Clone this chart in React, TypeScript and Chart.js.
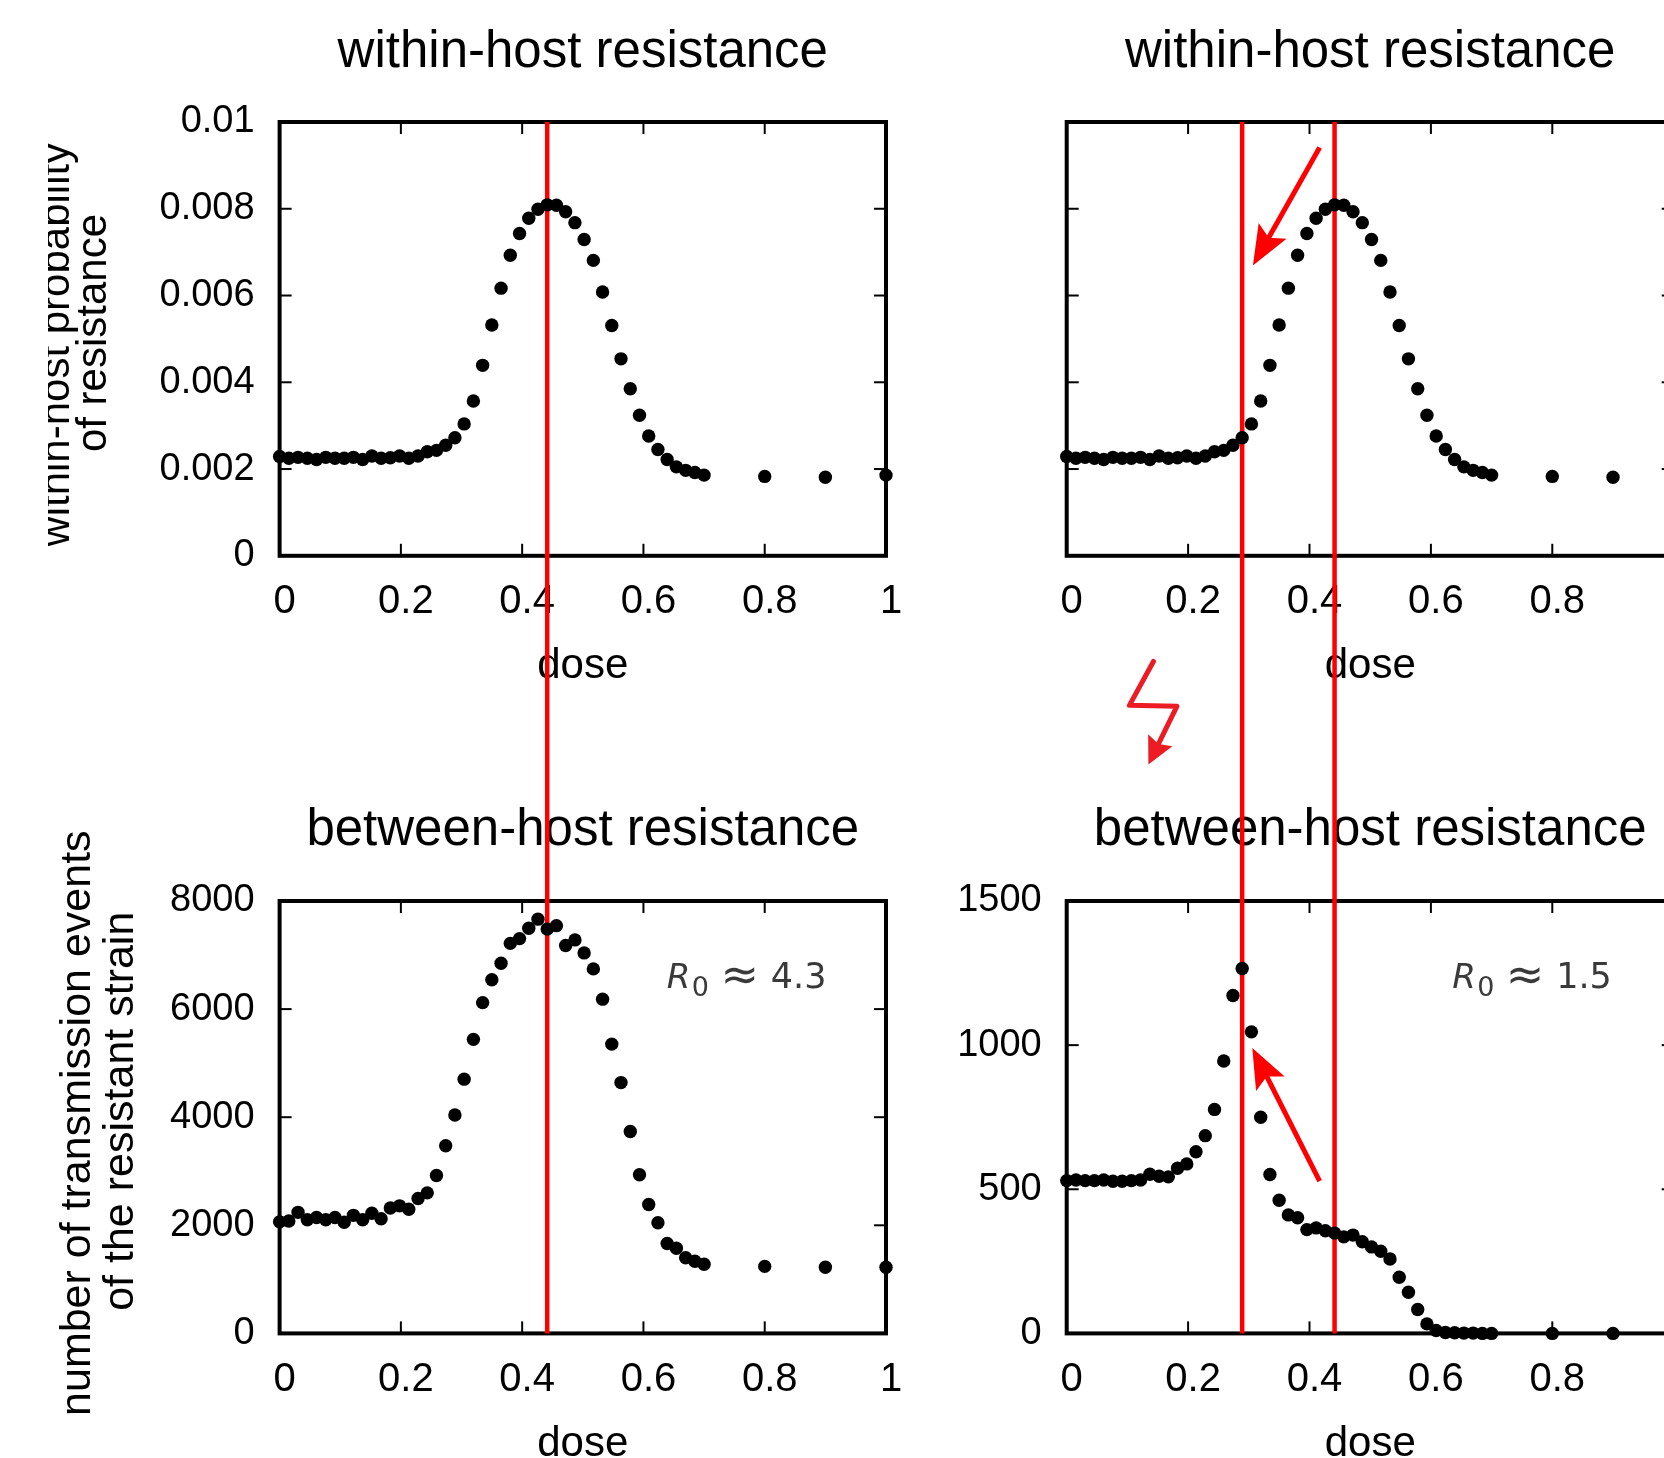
import React, { useEffect, useRef } from 'react';
import { Chart, registerables } from 'chart.js';

Chart.register(...registerables);

// ---------------- data ----------------
const DOSE = [
  0, 0.0152, 0.0304, 0.0457, 0.0609, 0.0761, 0.0913, 0.1065, 0.1217, 0.137,
  0.1522, 0.1674, 0.1826, 0.1978, 0.213, 0.2283, 0.2435, 0.2587, 0.2739, 0.2891,
  0.3043, 0.3196, 0.3348, 0.35, 0.3652, 0.3804, 0.3957, 0.4109, 0.4261, 0.4413,
  0.4565, 0.4717, 0.487, 0.5022, 0.5174, 0.5326, 0.5478, 0.563, 0.5783, 0.5935,
  0.6087, 0.6239, 0.6391, 0.6543, 0.6696, 0.6848, 0.7, 0.8, 0.9, 1.0,
];

const WITHIN_HOST_PROB = [
  0.00229, 0.00225, 0.00227, 0.00225, 0.00222, 0.00227, 0.00225, 0.00225, 0.00227, 0.00222,
  0.0023, 0.00225, 0.00226, 0.0023, 0.00225, 0.0023, 0.0024, 0.00243, 0.00255, 0.00272,
  0.00304, 0.00357, 0.00439, 0.00532, 0.00617, 0.00693, 0.00743, 0.00778, 0.00799, 0.00809,
  0.00808, 0.00793, 0.00768, 0.00729, 0.00681, 0.00608, 0.00531, 0.00454, 0.00385, 0.00324,
  0.00276, 0.00245, 0.00222, 0.00205, 0.00197, 0.00192, 0.00186, 0.00183, 0.00181, 0.00186,
];

const TRANSMISSIONS_R0_43 = [
  2064, 2080, 2240, 2104, 2144, 2104, 2144, 2056, 2184, 2104,
  2224, 2120, 2320, 2360, 2296, 2496, 2600, 2920, 3472, 4040,
  4704, 5440, 6120, 6544, 6848, 7216, 7304, 7496, 7664, 7480,
  7544, 7176, 7280, 7040, 6744, 6184, 5352, 4640, 3736, 2936,
  2384, 2048, 1664, 1576, 1400, 1336, 1280, 1240, 1224, 1224,
];

const TRANSMISSIONS_R0_15 = [
  530, 532, 530, 530, 532, 528, 528, 530, 532, 552,
  545, 543, 573, 588, 630, 686, 777, 945, 1172, 1266,
  1046, 750, 551, 462, 411, 401, 360, 366, 356, 348,
  335, 341, 318, 300, 285, 258, 195, 143, 83, 33,
  10, 3, 2, 1, 1, 0, 0, 0, 0, 0,
];

const TITLE_WITHIN = 'within-host resistance';
const TITLE_BETWEEN = 'between-host resistance';
const Y_TITLE_WITHIN = ['within-host probability ', ' of resistance'];
const Y_TITLE_BETWEEN = ['number of transmission events ', ' of the resistant strain'];
const X_TITLE = 'dose';

const OPTIMAL_DOSE = 0.4413;
const SHIFTED_DOSE = 0.2891;

// annotation anchors in data units
const ARROW_TOP = [[0.4167, 0.00941], [0.3068, 0.00669]];
const ARROW_BOTTOM = [[0.4167, 528], [0.3058, 990]];
const LIGHTNING = [[0.1429, -0.002436], [0.1033, -0.003448], [0.1815, -0.003471], [0.1346, -0.004811]];
const R0_LEFT = { label: '4.3', at: [0.6386, 6385] };
const R0_RIGHT = { label: '1.5', at: [0.635, 1197] };

const FONT = '"Liberation Sans", Arial, Helvetica, sans-serif';
const MATH_FONT = '"DejaVu Sans", sans-serif';

function hasFont(name: string): boolean {
  try {
    const c = document.createElement('canvas').getContext('2d');
    if (!c) return false;
    const s = 'within-host probability';
    c.font = '40px monospace';
    const w0 = c.measureText(s).width;
    c.font = `40px "${name}", monospace`;
    return Math.abs(c.measureText(s).width - w0) > 0.5;
  } catch (e) {
    return false;
  }
}
const NARROW = hasFont('Liberation Sans Narrow');
const TL_YTITLE_FONT = NARROW
  ? { family: '"Liberation Sans Narrow", "Liberation Sans", sans-serif', size: 50, lineHeight: 0.74 }
  : { family: FONT, size: 42, lineHeight: 0.88 };
const TL_YTITLE_PAD = NARROW ? 36.2 : 39;
const TL_CLIP = NARROW ? 44 : 48;

type Pt = number[];
interface PanelCfg {
  key: string;
  left: number; top: number; w: number; h: number;
  values: number[];
  yMax: number; yStep: number; showYTicks: boolean;
  yTitle: string[] | null; yTitleFont: any; yTitlePadTop: number;
  title: string; titlePadTop: number; titlePadBottom: number;
  yWidth: number; padRight: number; xHeight: number; xTitlePadBottom: number;
  redLines: number[]; redDown: boolean;
  arrow?: Pt[]; lightning?: Pt[]; r0?: { label: string; at: Pt };
  clipLeft?: number;
}

const PANELS: PanelCfg[] = [
  {
    key: 'tl', left: 0, top: 0, w: 940, h: 785,
    values: WITHIN_HOST_PROB, yMax: 0.01, yStep: 0.002, showYTicks: true,
    yTitle: Y_TITLE_WITHIN, yTitleFont: TL_YTITLE_FONT, yTitlePadTop: TL_YTITLE_PAD,
    title: TITLE_WITHIN, titlePadTop: 22, titlePadBottom: 38.8,
    yWidth: 279.6, padRight: 54, xHeight: 229.2, xTitlePadBottom: 93.3,
    redLines: [OPTIMAL_DOSE], redDown: true, clipLeft: TL_CLIP,
  },
  {
    key: 'tr', left: 940, top: 0, w: 800, h: 785,
    values: WITHIN_HOST_PROB, yMax: 0.01, yStep: 0.002, showYTicks: false,
    yTitle: null, yTitleFont: null, yTitlePadTop: 0,
    title: TITLE_WITHIN, titlePadTop: 22, titlePadBottom: 38.8,
    yWidth: 126.7, padRight: 66.3, xHeight: 229.2, xTitlePadBottom: 93.3,
    redLines: [SHIFTED_DOSE, OPTIMAL_DOSE], redDown: true,
    arrow: ARROW_TOP, lightning: LIGHTNING,
  },
  {
    key: 'bl', left: 0, top: 785, w: 940, h: 700,
    values: TRANSMISSIONS_R0_43, yMax: 8000, yStep: 2000, showYTicks: true,
    yTitle: Y_TITLE_BETWEEN, yTitleFont: { family: FONT, size: 43, lineHeight: 1.0 }, yTitlePadTop: 56.5,
    title: TITLE_BETWEEN, titlePadTop: 15.4, titlePadBottom: 39.4,
    yWidth: 279.6, padRight: 54, xHeight: 151.6, xTitlePadBottom: 15.3,
    redLines: [OPTIMAL_DOSE], redDown: false, r0: R0_LEFT,
  },
  {
    key: 'br', left: 940, top: 785, w: 800, h: 700,
    values: TRANSMISSIONS_R0_15, yMax: 1500, yStep: 500, showYTicks: true,
    yTitle: null, yTitleFont: null, yTitlePadTop: 0,
    title: TITLE_BETWEEN, titlePadTop: 15.4, titlePadBottom: 39.4,
    yWidth: 126.7, padRight: 66.3, xHeight: 151.6, xTitlePadBottom: 15.3,
    redLines: [SHIFTED_DOSE, OPTIMAL_DOSE], redDown: false,
    arrow: ARROW_BOTTOM, r0: R0_RIGHT,
  },
];

const fmt = (v: any) => String(+Number(v).toFixed(6));

function seg(ctx: CanvasRenderingContext2D, x0: number, y0: number, x1: number, y1: number) {
  ctx.beginPath();
  ctx.moveTo(x0, y0);
  ctx.lineTo(x1, y1);
  ctx.stroke();
}

function arrowHead(ctx: CanvasRenderingContext2D, x0: number, y0: number, x1: number, y1: number,
  len: number, half: number, notch: number) {
  const d = Math.hypot(x1 - x0, y1 - y0);
  const ux = (x1 - x0) / d, uy = (y1 - y0) / d;
  const nx = -uy, ny = ux;
  const bx = x1 - ux * len, by = y1 - uy * len;
  ctx.beginPath();
  ctx.moveTo(x1, y1);
  ctx.lineTo(bx + nx * half, by + ny * half);
  ctx.lineTo(x1 - ux * len * notch, y1 - uy * len * notch);
  ctx.lineTo(bx - nx * half, by - ny * half);
  ctx.closePath();
  ctx.fill();
  return [x1 - ux * len * notch * 0.9, y1 - uy * len * notch * 0.9];
}

function makeDecor(p: PanelCfg) {
  return {
    id: 'decor_' + p.key,
    beforeDatasetsDraw(chart: any) {
      const { ctx, chartArea: a } = chart;
      const xs = chart.scales.x, ys = chart.scales.y;
      ctx.save();
      ctx.strokeStyle = '#000';
      ctx.lineWidth = 2;
      xs.ticks.forEach((t: any) => {
        const px = xs.getPixelForValue(t.value);
        seg(ctx, px, a.bottom, px, a.bottom - 12);
        seg(ctx, px, a.top, px, a.top + 12);
      });
      ys.ticks.forEach((t: any) => {
        const py = ys.getPixelForValue(t.value);
        seg(ctx, a.left, py, a.left + 12, py);
        seg(ctx, a.right, py, a.right - 12, py);
      });
      ctx.lineWidth = 4;
      ctx.strokeRect(a.left, a.top, a.right - a.left, a.bottom - a.top);
      ctx.strokeStyle = '#ff0000';
      ctx.lineWidth = 4.5;
      p.redLines.forEach((v) => {
        const px = xs.getPixelForValue(v);
        if (p.redDown) seg(ctx, px, a.top, px, chart.height);
        else seg(ctx, px, 0, px, a.bottom);
      });
      ctx.restore();
    },
    afterDatasetsDraw(chart: any) {
      const { ctx } = chart;
      const xs = chart.scales.x, ys = chart.scales.y;
      const P = (q: Pt) => [xs.getPixelForValue(q[0]), ys.getPixelForValue(q[1])];
      ctx.save();
      if (p.arrow) {
        const [s, e] = p.arrow.map(P);
        ctx.fillStyle = '#ff0000';
        ctx.strokeStyle = '#ff0000';
        ctx.lineWidth = 5;
        const end = arrowHead(ctx, s[0], s[1], e[0], e[1], 40, 16, 0.8);
        seg(ctx, s[0], s[1], end[0], end[1]);
      }
      if (p.lightning) {
        const pts = p.lightning.map(P);
        ctx.strokeStyle = '#ed1c24';
        ctx.fillStyle = '#ed1c24';
        ctx.lineWidth = 5;
        ctx.lineCap = 'round';
        ctx.lineJoin = 'round';
        const n = pts.length;
        const end = arrowHead(ctx, pts[n - 2][0], pts[n - 2][1], pts[n - 1][0], pts[n - 1][1], 27, 13.5, 0.85);
        ctx.beginPath();
        ctx.moveTo(pts[0][0], pts[0][1]);
        for (let i = 1; i < n - 1; i++) ctx.lineTo(pts[i][0], pts[i][1]);
        ctx.lineTo(end[0], end[1]);
        ctx.stroke();
      }
      if (p.r0) {
        const [x, y] = P(p.r0.at);
        ctx.fillStyle = '#3a3a3a';
        ctx.textBaseline = 'alphabetic';
        ctx.textAlign = 'left';
        ctx.font = 'italic 34px ' + MATH_FONT;
        ctx.fillText('R', x, y);
        ctx.font = '27px ' + MATH_FONT;
        ctx.fillText('0', x + 25, y + 8);
        ctx.font = '46px ' + MATH_FONT;
        ctx.textAlign = 'center';
        ctx.fillText('\u2248', x + 73, y + 2);
        ctx.font = '35px ' + MATH_FONT;
        ctx.textAlign = 'left';
        ctx.fillText(p.r0.label, x + 104, y);
      }
      ctx.restore();
    },
    afterDraw(chart: any) {
      if (p.clipLeft) {
        const { ctx } = chart;
        ctx.save();
        ctx.fillStyle = '#fff';
        ctx.fillRect(0, 0, p.clipLeft, chart.height);
        ctx.restore();
      }
    },
  };
}

function buildConfig(p: PanelCfg): any {
  return {
    type: 'scatter',
    data: {
      datasets: [
        {
          data: DOSE.map((d, i) => ({ x: d, y: p.values[i] })),
          pointRadius: 6.7,
          pointBackgroundColor: '#000',
          pointBorderWidth: 0,
          showLine: false,
          clip: false,
        },
      ],
    },
    options: {
      animation: false,
      responsive: false,
      devicePixelRatio: 1,
      events: [],
      layout: { padding: { left: 0, right: p.padRight, top: 0, bottom: 0 } },
      plugins: {
        legend: { display: false },
        tooltip: { enabled: false },
        title: {
          display: true,
          text: p.title,
          fullSize: false,
          color: '#000',
          font: { family: FONT, size: 51, weight: 'normal', lineHeight: 1.2 },
          padding: { top: p.titlePadTop, bottom: p.titlePadBottom },
        },
      },
      scales: {
        x: {
          type: 'linear',
          position: 'bottom',
          min: 0,
          max: 1,
          ticks: {
            stepSize: 0.2,
            color: '#000',
            font: { family: FONT, size: 40 },
            padding: 22.5,
            labelOffset: 5,
            maxRotation: 0,
            autoSkip: false,
            callback: fmt,
          },
          grid: { display: false, drawTicks: false },
          border: { display: false },
          title: {
            display: true,
            text: X_TITLE,
            color: '#000',
            font: { family: FONT, size: 42, lineHeight: 1.2 },
            padding: { top: 0, bottom: p.xTitlePadBottom },
          },
          afterFit: (s: any) => { s.height = p.xHeight; },
        },
        y: {
          type: 'linear',
          position: 'left',
          min: 0,
          max: p.yMax,
          ticks: {
            stepSize: p.yStep,
            display: p.showYTicks,
            color: '#000',
            font: { family: FONT, size: 38 },
            padding: 25,
            callback: fmt,
          },
          grid: { display: false, drawTicks: false },
          border: { display: false },
          title: p.yTitle
            ? {
                display: true,
                text: p.yTitle,
                color: '#000',
                font: p.yTitleFont,
                padding: { top: p.yTitlePadTop, bottom: 0 },
              }
            : { display: false },
          afterFit: (s: any) => { s.width = p.yWidth; },
        },
      },
    },
    plugins: [makeDecor(p)],
  };
}

function Panel({ p }: { p: PanelCfg }) {
  const ref = useRef<HTMLCanvasElement>(null);
  useEffect(() => {
    const chart = new Chart(ref.current as HTMLCanvasElement, buildConfig(p));
    return () => chart.destroy();
  }, [p]);
  return (
    <canvas
      ref={ref}
      width={p.w}
      height={p.h}
      style={{ position: 'absolute', left: p.left, top: p.top, width: p.w, height: p.h, display: 'block' }}
    />
  );
}

export default function App() {
  return (
    <div
      style={{
        position: 'absolute',
        left: 0,
        top: 0,
        width: 1664,
        height: 1458,
        overflow: 'hidden',
        background: '#fff',
      }}
    >
      {PANELS.map((p) => (
        <Panel key={p.key} p={p} />
      ))}
    </div>
  );
}
